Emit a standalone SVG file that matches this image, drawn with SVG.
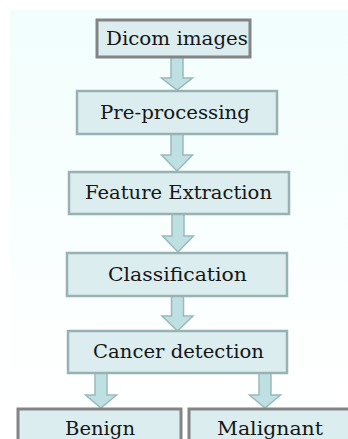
<svg xmlns="http://www.w3.org/2000/svg" width="348" height="439" viewBox="0 0 348 439">
<defs>
<linearGradient id="bg" x1="0" y1="0" x2="0" y2="1">
<stop offset="0" stop-color="#f1fefd"/>
<stop offset="1" stop-color="#ffffff"/>
</linearGradient>
</defs>
<style>
.box{fill:#dbedee;stroke:#98b2b3;stroke-width:2.5}
.gbox{fill:#dbedee;stroke:#848484;stroke-width:3}
.arr{fill:#bfe0e3;stroke:#9ab9bb;stroke-width:1.5;stroke-linejoin:miter}
text{font-family:"DejaVu Serif","Liberation Serif",serif;font-size:19px;fill:#161616;text-anchor:middle}
</style>
<rect x="0" y="0" width="348" height="439" fill="#ffffff"/>
<rect x="10" y="10" width="338" height="400" fill="url(#bg)"/>
<g id="connectors">
<polygon class="arr" points="171,57 183,57 183,78 192.5,78 177,90 161.5,78 171,78"/>
<polygon class="arr" points="171,134 183,134 183,155 192.5,155 177,171 161.5,155 171,155"/>
<polygon class="arr" points="172,214 184,214 184,236 193.5,236 178,252 162.5,236 172,236"/>
<polygon class="arr" points="171.5,296 183.5,296 183.5,316 193,316 177.5,331 162,316 171.5,316"/>
<polygon class="arr" points="95,373 107,373 107,395 116.5,395 101,408 85.5,395 95,395"/>
<polygon class="arr" points="259,373 271,373 271,395 280.5,395 265,408 249.5,395 259,395"/>
</g>
<g id="dicom">
<rect class="gbox" x="97" y="20" width="153" height="37"/>
<text x="177" y="45" textLength="142" lengthAdjust="spacingAndGlyphs">Dicom images</text>
</g>
<g id="preprocessing">
<rect class="box" x="77" y="91" width="200" height="43"/>
<text x="175" y="119" textLength="150" lengthAdjust="spacingAndGlyphs">Pre-processing</text>
</g>
<g id="feature">
<rect class="box" x="69" y="172" width="220" height="42"/>
<text x="178.5" y="199" textLength="187" lengthAdjust="spacingAndGlyphs">Feature Extraction</text>
</g>
<g id="classification">
<rect class="box" x="67" y="253" width="220" height="43"/>
<text x="177.5" y="281" textLength="139" lengthAdjust="spacingAndGlyphs">Classification</text>
</g>
<g id="cancer">
<rect class="box" x="68" y="331" width="219" height="42"/>
<text x="178.5" y="358" textLength="171" lengthAdjust="spacingAndGlyphs">Cancer detection</text>
</g>
<g id="benign">
<rect class="gbox" x="18" y="409" width="163" height="40"/>
<text x="100" y="435" textLength="70" lengthAdjust="spacingAndGlyphs">Benign</text>
</g>
<g id="malignant">
<rect class="gbox" x="189" y="409" width="170" height="40"/>
<text x="270" y="435" textLength="106" lengthAdjust="spacingAndGlyphs">Malignant</text>
</g>
</svg>
